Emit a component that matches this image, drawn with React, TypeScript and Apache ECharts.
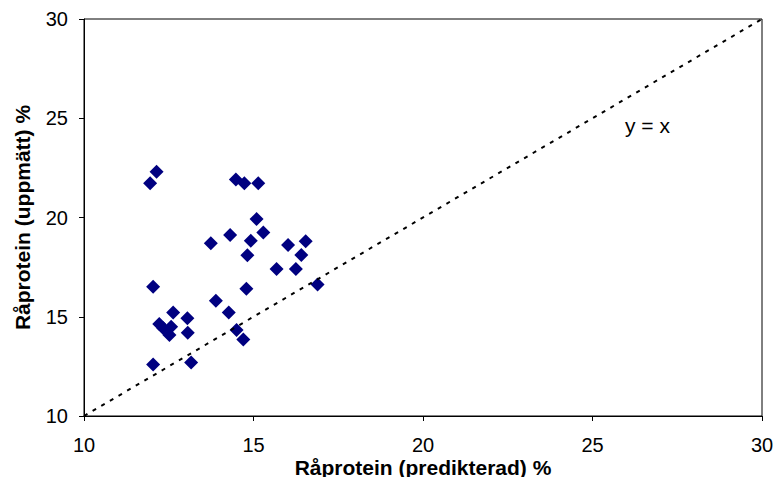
import React, { useEffect, useRef } from "react";
import * as echarts from "echarts";

const predicted = [12.14, 11.95, 14.48, 14.73, 15.14, 15.09, 15.29, 14.31, 13.74, 14.92, 14.82, 16.02, 16.54, 16.41, 15.68, 16.25, 12.04, 14.79, 16.89, 13.89, 14.27, 12.63, 12.22, 13.05, 12.57, 12.52, 13.06, 14.50, 14.70, 12.04, 13.16, 12.34];
const measured = [22.31, 21.72, 21.92, 21.72, 21.72, 19.92, 19.25, 19.12, 18.70, 18.83, 18.10, 18.61, 18.80, 18.11, 17.41, 17.41, 16.51, 16.41, 16.63, 15.81, 15.22, 15.22, 14.63, 14.92, 14.50, 14.08, 14.20, 14.33, 13.86, 12.60, 12.69, 14.42];
const identityLine = [[10, 10], [30, 30]];
const xTitle = "Råprotein (predikterad) %";
const yTitle = "Råprotein (uppmätt) %";
const lineLabel = "y = x";

export default function App() {
  const ref = useRef<HTMLDivElement>(null);
  useEffect(() => {
    const chart = echarts.init(ref.current!, null, { renderer: "svg" });
    const font = "'Liberation Sans', Arial, sans-serif";
    chart.setOption({
      animation: false,
      grid: { left: 84, right: 13, top: 19, bottom: 61, show: true, borderColor: "#000", borderWidth: 1, outerBoundsMode: "none", containLabel: false },
      xAxis: {
        type: "value", min: 10, max: 30, interval: 5,
        name: xTitle, nameLocation: "middle", nameGap: 51, nameMoveOverlap: false,
        nameTextStyle: { fontFamily: font, fontWeight: "bold", fontSize: 21, lineHeight: 20, color: "#000", verticalAlign: "middle" },
        axisLine: { lineStyle: { color: "#000", width: 1 } },
        axisTick: { show: true, length: 5, lineStyle: { color: "#000" } },
        axisLabel: { fontFamily: font, fontSize: 20, lineHeight: 20, color: "#000", margin: 19 },
        splitLine: { show: false },
      },
      yAxis: {
        type: "value", min: 10, max: 30, interval: 5,
        name: yTitle, nameLocation: "middle", nameGap: 51, nameMoveOverlap: false,
        nameTextStyle: { fontFamily: font, fontWeight: "bold", fontSize: 21, color: "#000" },
        axisLine: { lineStyle: { color: "#000", width: 1 } },
        axisTick: { show: true, length: 5, lineStyle: { color: "#000" } },
        axisLabel: { fontFamily: font, fontSize: 20, color: "#000", margin: 16 },
        splitLine: { show: false },
      },
      graphic: [
        { type: "text", left: 625, top: 115, style: { text: lineLabel, fontFamily: font, fontSize: 21, fill: "#000" } },
      ],
      series: [
        {
          type: "line", data: identityLine, symbol: "none",
          lineStyle: { color: "#000", width: 2, type: [4, 6] }, silent: true,
        },
        {
          type: "scatter", data: predicted.map((x, i) => [x, measured[i]]),
          symbol: "diamond", symbolSize: [14, 14],
          itemStyle: { color: "#000080", opacity: 1 },
        },
      ],
    });
    return () => chart.dispose();
  }, []);
  return <div ref={ref} style={{ width: 775, height: 477, position: "absolute", left: 0, top: 0 }} />;
}
